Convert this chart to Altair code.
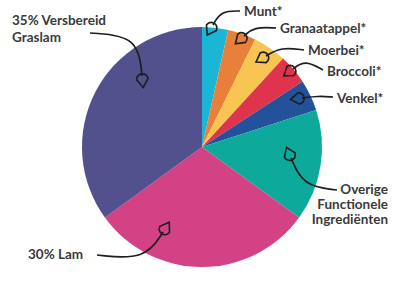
import math
import altair as alt
import pandas as pd

# ---- data ----
categories = ["Munt*", "Granaatappel*", "Moerbei*", "Broccoli*", "Venkel*",
              "Overige Functionele Ingrediënten", "30% Lam", "35% Versbereid Graslam"]
values = [3.5, 3.8, 4.5, 4.0, 4.2, 15, 30, 35]
colors = ["#1BB5D5", "#E8803A", "#F8C553", "#DF344B", "#24529A",
          "#0DAA9B", "#D34285", "#53508E"]

# label lines
label_lines = [["Munt*"], ["Granaatappel*"], ["Moerbei*"], ["Broccoli*"], ["Venkel*"],
               ["Overige", "Functionele", "Ingrediënten"], ["30% Lam"],
               ["35% Versbereid", "Graslam"]]

# ---- layout (pixels) ----
W, H = 401, 284
CX, CY, R = 202, 147, 120
label_anchor = [(244, 12), (280, 29), (308, 51), (327, 72), (337, 99),
                (388, 190), (28, 255), (12, 21)]
label_align = ["left", "left", "left", "left", "left", "right", "left", "left"]
line_step = [17, 17, 17, 17, 17, 15, 17, 17]
arrow_start = [(240, 11), (276, 28), (304, 50), (323, 70), (333, 97),
               (337, 190), (97, 255), (90, 33)]
arrow_ctrl = [(221, 11), (254, 27), (281, 47), (305, 60), (318, 96),
              (303, 186), (145, 260), (138, 36)]
arrow_end = [(213, 25), (244, 36), (266, 56), (293, 69), (302, 98),
             (291, 158), (163, 232), (142, 76)]

pie_df = pd.DataFrame({"cat": categories, "value": values,
                       "order": list(range(len(categories)))})

lab_rows = []
for i, lines in enumerate(label_lines):
    for j, t in enumerate(lines):
        lab_rows.append({"text": t, "x": label_anchor[i][0],
                         "y": label_anchor[i][1] + j * line_step[i],
                         "align": label_align[i]})
lab_df = pd.DataFrame(lab_rows)

arr_rows, head_rows = [], []
for i in range(len(categories)):
    pts = [arrow_start[i], arrow_ctrl[i], arrow_end[i]]
    for k, (px, py) in enumerate(pts):
        arr_rows.append({"id": i, "k": k, "x": px, "y": py})
    dx = arrow_end[i][0] - arrow_ctrl[i][0]
    dy = arrow_end[i][1] - arrow_ctrl[i][1]
    ang = (math.degrees(math.atan2(dx, -dy)) + 360) % 360
    head_rows.append({"x": arrow_end[i][0], "y": arrow_end[i][1], "angle": ang})
arr_df = pd.DataFrame(arr_rows)
head_df = pd.DataFrame(head_rows)

xs = alt.Scale(domain=[0, W], nice=False, zero=False)
ys = alt.Scale(domain=[0, H], nice=False, zero=False, reverse=True)

pie = alt.Chart(pie_df).mark_arc(outerRadius=R, stroke=None).encode(
    theta=alt.Theta("value:Q", stack=True),
    order=alt.Order("order:Q"),
    color=alt.Color("cat:N", scale=alt.Scale(domain=categories, range=colors), legend=None),
    x=alt.value(CX), y=alt.value(CY),
)

text_style = dict(font="Lato", fontSize=13.5, fontWeight="bold", color="#3a3a3a", baseline="middle")
lab_left = alt.Chart(lab_df).transform_filter(alt.datum.align == "left").mark_text(
    align="left", **text_style).encode(
    x=alt.X("x:Q", scale=xs, axis=None), y=alt.Y("y:Q", scale=ys, axis=None), text="text:N")
lab_right = alt.Chart(lab_df).transform_filter(alt.datum.align == "right").mark_text(
    align="right", **text_style).encode(
    x=alt.X("x:Q", scale=xs, axis=None), y=alt.Y("y:Q", scale=ys, axis=None), text="text:N")

arrows = alt.Chart(arr_df).mark_line(interpolate="basis", color="#1e1e1e", strokeWidth=1.7).encode(
    x=alt.X("x:Q", scale=xs, axis=None), y=alt.Y("y:Q", scale=ys, axis=None),
    detail="id:N", order="k:Q")

head_shape = "M0,-2.2 L1.1,-0.6 Q0.9,0.4 0,0.4 Q-0.9,0.4 -1.1,-0.6 Z"
heads = alt.Chart(head_df).mark_point(shape=head_shape, filled=False, size=110,
                                      color="#1e1e1e", strokeWidth=1.6, opacity=1).encode(
    x=alt.X("x:Q", scale=xs, axis=None), y=alt.Y("y:Q", scale=ys, axis=None),
    angle=alt.Angle("angle:Q", scale=None))

chart = alt.layer(pie, arrows, heads, lab_left, lab_right).properties(
    width=W, height=H, padding=0, autosize=alt.AutoSizeParams(type="none")
).configure_view(stroke=None)

chart.save("out.html", embed_options={"renderer": "svg", "actions": False})
